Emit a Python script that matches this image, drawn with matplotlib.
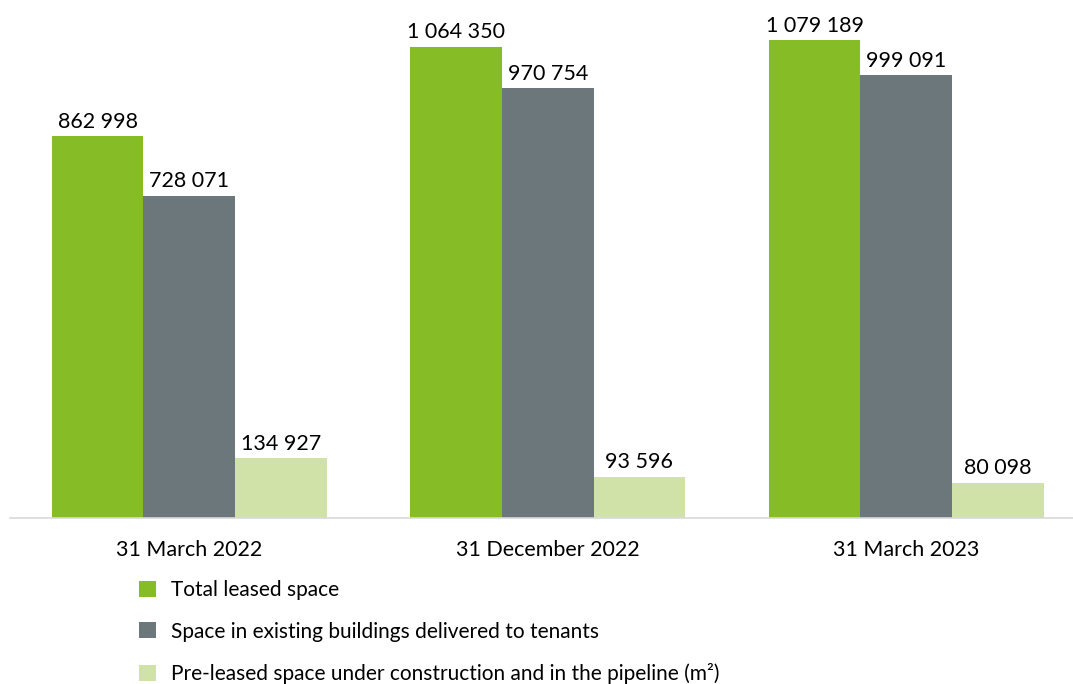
import matplotlib
matplotlib.use("Agg")
import matplotlib.pyplot as plt
import numpy as np
from matplotlib.patches import Patch

plt.rcParams['font.family'] = ['Lato', 'DejaVu Sans']

categories = ["31 March 2022", "31 December 2022", "31 March 2023"]
series_names = ["Total leased space",
                "Space in existing buildings delivered to tenants",
                "Pre-leased space under construction and in the pipeline (m²)"]
total_leased = [862998, 1064350, 1079189]
existing_space = [728071, 970754, 999091]
pre_leased = [134927, 93596, 80098]
colors = ["#86BC25", "#6B777B", "#D0E2A8"]

def fmt(v):
    return f"{v:,}".replace(",", " ")

W, H = 1073, 684
fig = plt.figure(figsize=(W / 100, H / 100), dpi=100)
left, right, bottom, top = 10, 10 + 1075.5, 518, 40
ax = fig.add_axes([left / W, (H - bottom) / H, (right - left) / W, (bottom - top) / H])

x = np.arange(len(categories))
bw = 0.2555
series = [total_leased, existing_space, pre_leased]
for i, (vals, c) in enumerate(zip(series, colors)):
    pos = x + (i - 1) * bw
    ax.bar(pos, vals, width=bw, color=c, edgecolor='none')
    for p, v in zip(pos, vals):
        ax.annotate(fmt(v), (p, v), xytext=(0, 3), textcoords='offset points',
                    ha='center', va='bottom', fontsize=15.5, color='#000000')

ax.set_xlim(-0.5, 2.5)
ax.set_ylim(0, max(total_leased))
for s in ['top', 'right', 'left']:
    ax.spines[s].set_visible(False)
ax.spines['bottom'].set_color('#D9D9D9')
ax.spines['bottom'].set_linewidth(1.2)
ax.set_yticks([])
ax.set_xticks(x)
ax.set_xticklabels(categories, fontsize=15.5)
ax.tick_params(axis='x', length=0, pad=16)
ax.patch.set_alpha(0)

handles = [Patch(facecolor=c, edgecolor='none') for c in colors]
fig.legend(handles, series_names, loc='upper left',
           bbox_to_anchor=(131 / W, 1 - 572 / H), frameon=False,
           fontsize=15, handlelength=0.8, handleheight=0.8,
           handletextpad=0.7, labelspacing=1.02, borderaxespad=0)

fig.savefig("out.png", dpi=100)
